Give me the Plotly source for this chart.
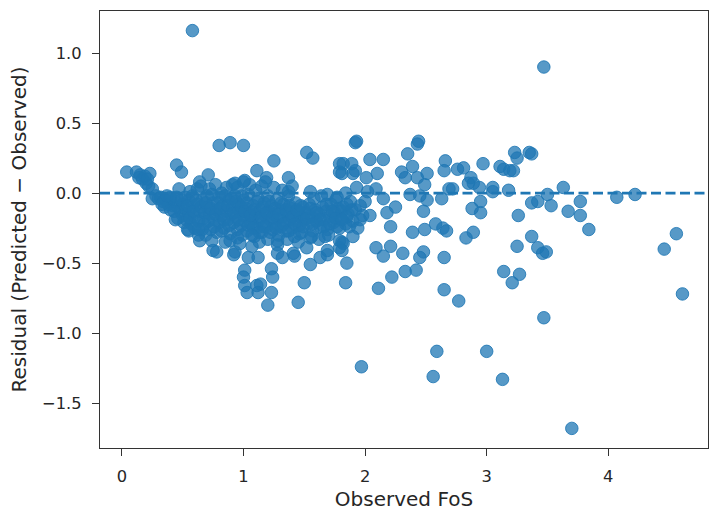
import plotly.graph_objects as go

# (Observed FoS, Residual) pairs, grouped by region
left_group = [(0.04,0.15),(0.12,0.15),(0.15,0.13),(0.19,0.12),(0.23,0.14),(0.17,0.10),(0.20,0.07),
              (0.22,0.05),(0.25,0.03),(0.25,-0.04),(0.28,-0.02),(0.14,0.11),(0.21,0.10)]

upper_left = [(0.45,0.20),(0.49,0.15),(0.58,1.16),(0.64,0.08),(0.71,0.13),(0.80,0.34),(0.89,0.36),
              (1.00,0.34),(0.86,0.04),(0.91,0.06),(0.82,0.00),(0.93,0.07),(1.01,0.09),(1.11,0.16),
              (1.19,0.11),(1.25,0.23),(1.37,0.11),(1.52,0.29),(1.57,0.25),(1.37,0.01),(1.55,0.01),
              (1.69,-0.01),(1.77,-0.03),(1.84,0.00),(1.79,0.21),(1.79,0.15),(1.89,0.21),(1.90,0.14),
              (1.92,0.36),(1.93,0.37),(1.82,0.21),(1.81,0.14),(1.92,0.16)]

band = [(0.30,-0.04),(0.32,-0.03),(0.34,-0.06),(0.36,-0.05),(0.38,-0.08),(0.40,-0.04),(0.42,-0.09),
        (0.35,-0.10),(0.40,-0.12),(0.44,-0.06),(0.46,-0.10),(0.48,-0.13),(0.50,-0.08),(0.50,-0.16),
        (0.52,-0.11),(0.53,-0.19),(0.55,-0.05),(0.55,-0.14),(0.57,-0.22),(0.58,-0.10),(0.60,-0.17),
        (0.60,-0.25),(0.46,-0.18),(0.52,-0.03),(0.47,0.03),(0.56,0.01),(0.58,-0.02),(0.62,0.03),
        (0.55,-0.27),(0.63,-0.30),(0.40,-0.03),
        (0.62,-0.08),(0.64,-0.13),(0.66,-0.05),(0.67,-0.18),(0.68,-0.22),(0.70,-0.10),(0.70,-0.02),
        (0.72,-0.15),(0.73,-0.26),(0.75,-0.07),(0.76,-0.19),(0.78,-0.12),(0.78,-0.28),(0.80,-0.03),
        (0.80,-0.21),(0.82,-0.16),(0.83,-0.09),(0.84,-0.25),(0.86,-0.13),(0.87,-0.19),(0.88,-0.05),
        (0.89,-0.29),(0.90,-0.15),(0.65,0.05),(0.72,0.03),(0.77,0.06),(0.69,-0.30),(0.74,-0.34),
        (0.85,-0.35),
        (0.91,-0.10),(0.92,-0.21),(0.93,-0.02),(0.94,-0.17),(0.95,-0.26),(0.96,-0.08),(0.97,-0.13),
        (0.98,-0.23),(0.99,-0.30),(1.00,-0.05),(1.00,-0.16),(1.01,-0.20),(1.02,-0.11),(1.03,-0.27),
        (1.04,-0.01),(1.05,-0.14),(1.06,-0.22),(1.07,-0.18),(1.08,-0.09),(1.09,-0.31),(1.10,-0.15),
        (1.11,-0.25),(1.12,-0.04),(1.13,-0.19),(1.14,-0.12),(1.15,-0.28),(1.16,-0.21),(1.17,-0.07),
        (1.18,-0.16),(1.19,-0.24),(1.20,-0.02),(1.20,-0.33),(0.95,0.04),(1.05,0.06),(1.15,0.05),
        (1.10,0.02),(1.00,0.08),(1.18,0.08),(0.97,-0.36),(1.07,-0.38),(1.13,-0.35),
        (1.21,-0.13),(1.22,-0.19),(1.23,-0.09),(1.24,-0.26),(1.25,-0.15),(1.26,-0.22),(1.27,-0.05),
        (1.28,-0.18),(1.29,-0.30),(1.30,-0.12),(1.31,-0.24),(1.32,-0.17),(1.33,-0.08),(1.34,-0.21),
        (1.35,-0.27),(1.36,-0.14),(1.37,-0.02),(1.38,-0.19),(1.39,-0.11),(1.40,-0.25),(1.41,-0.16),
        (1.42,-0.31),(1.43,-0.07),(1.44,-0.20),(1.45,-0.13),(1.46,-0.23),(1.47,-0.17),(1.48,-0.28),
        (1.49,-0.10),(1.50,-0.19),(1.25,0.04),(1.32,0.02),(1.40,0.05),(1.28,-0.34),(1.36,-0.33),
        (1.45,-0.35),
        (1.51,-0.14),(1.53,-0.22),(1.54,-0.08),(1.56,-0.17),(1.57,-0.27),(1.59,-0.12),(1.60,-0.20),
        (1.62,-0.15),(1.63,-0.24),(1.65,-0.10),(1.66,-0.19),(1.68,-0.13),(1.69,-0.26),(1.71,-0.17),
        (1.72,-0.08),(1.74,-0.21),(1.75,-0.14),(1.77,-0.24),(1.78,-0.11),(1.80,-0.18),(1.58,-0.04),
        (1.64,-0.02),(1.70,-0.30),(1.76,-0.05),(1.55,-0.32),(1.62,-0.33),
        (1.82,-0.10),(1.84,-0.22),(1.86,-0.15),(1.88,-0.06),(1.90,-0.20),(1.92,-0.12),(1.94,-0.25),
        (1.96,-0.09),(1.98,-0.16)]

band_fill = [(0.33,-0.08),(0.37,-0.02),(0.43,-0.13),(0.45,-0.03),(0.49,-0.05),(0.51,-0.21),(0.54,-0.09),
             (0.56,-0.18),(0.59,-0.13),(0.61,-0.05),(0.63,-0.20),(0.65,-0.10),(0.66,-0.26),(0.68,-0.14),
             (0.69,-0.07),(0.71,-0.20),(0.73,-0.11),(0.74,-0.01),(0.76,-0.24),(0.77,-0.15),(0.79,-0.07),
             (0.81,-0.11),(0.82,-0.27),(0.84,-0.19),(0.85,-0.02),(0.87,-0.09),(0.88,-0.23),(0.90,-0.04),
             (0.92,-0.14),(0.94,-0.06),(0.96,-0.19),(0.98,-0.10),(0.99,-0.02),(1.01,-0.13),(1.03,-0.07),
             (1.04,-0.23),(1.06,-0.16),(1.08,-0.25),(1.09,-0.12),(1.11,-0.06),(1.13,-0.28),(1.14,-0.17),
             (1.16,-0.10),(1.17,-0.24),(1.19,-0.14),(1.21,-0.06),(1.22,-0.28),(1.24,-0.17),(1.26,-0.11),
             (1.27,-0.25),(1.29,-0.15),(1.31,-0.07),(1.33,-0.22),(1.35,-0.12),(1.37,-0.27),(1.38,-0.09),
             (1.40,-0.17),(1.42,-0.22),(1.44,-0.12),(1.46,-0.29),(1.47,-0.09),(1.49,-0.24),(1.52,-0.18),
             (1.55,-0.11),(1.57,-0.22),(1.60,-0.14),(1.63,-0.19),(1.66,-0.24),(1.68,-0.08),(1.71,-0.22),
             (1.73,-0.13),(1.76,-0.18),(1.79,-0.25),(1.81,-0.13),(1.85,-0.08),(1.87,-0.24)]

lower_left = [(0.44,-0.19),(0.54,-0.26),(0.63,-0.26),(0.64,-0.34),(0.75,-0.41),(0.78,-0.42),
              (0.89,-0.34),(0.93,-0.42),(0.95,-0.32),(1.07,-0.30),(0.92,-0.44),(1.04,-0.46),
              (1.12,-0.46),(1.01,-0.55),(1.00,-0.60),(1.01,-0.66),(1.03,-0.71),(1.11,-0.66),
              (1.14,-0.65),(1.12,-0.71),(1.23,-0.54),(1.24,-0.60),(1.23,-0.71),(1.20,-0.80),
              (1.28,-0.37),(1.28,-0.43),(1.32,-0.46),(1.42,-0.45),(1.55,-0.51),(1.50,-0.64),
              (1.45,-0.78),(1.52,-0.39),(1.63,-0.46),(1.69,-0.44),(1.67,-0.31),(1.81,-0.35),
              (1.79,-0.39),(1.85,-0.50),(1.84,-0.64),(1.90,-0.31),(1.41,-0.43),(1.56,-0.31),
              (1.69,-0.41),(1.79,-0.34)]

middle = [(2.44,0.37),(2.43,0.35),(2.35,0.28),(2.15,0.24),(2.04,0.24),(2.10,0.14),(2.01,0.11),
          (2.30,0.15),(2.39,0.19),(2.33,0.11),(2.43,0.11),(2.51,0.14),(2.49,0.06),(1.93,0.04),
          (2.09,0.03),(2.02,0.01),(2.00,-0.06),(2.15,-0.04),(2.37,-0.01),(2.45,-0.02),(2.51,-0.05),
          (2.25,-0.10),(2.48,-0.13),(2.18,-0.14),(1.89,-0.12),(2.04,-0.16),(1.96,-0.19),(1.85,-0.17),
          (1.81,-0.19),(2.21,-0.24),(2.39,-0.28),(2.49,-0.26),(2.58,-0.22),(1.82,-0.36),(1.81,-0.41),
          (2.09,-0.39),(2.21,-0.38),(2.15,-0.45),(2.31,-0.43),(2.48,-0.42),(2.45,-0.46),(2.42,-0.55),
          (2.33,-0.56),(2.22,-0.60),(2.11,-0.68),(1.97,-1.24),(2.59,-1.13),(2.56,-1.31),(3.00,-1.13),
          (3.13,-1.33),(3.70,-1.68)]

right_group = [(3.23,0.29),(3.25,0.25),(3.35,0.29),(3.37,0.28),(2.97,0.21),(3.11,0.19),(3.14,0.17),
               (3.19,0.16),(3.22,0.16),(2.66,0.23),(2.65,0.16),(2.76,0.17),(2.81,0.18),(2.87,0.11),
               (2.85,0.07),(2.89,0.07),(2.94,0.04),(2.69,0.03),(2.72,0.03),(3.05,0.04),(3.05,0.01),
               (3.18,0.02),(2.95,-0.06),(2.88,-0.11),(2.95,-0.14),(2.63,-0.04),(2.64,-0.25),(2.67,-0.27),
               (2.65,-0.46),(2.65,-0.69),(2.77,-0.77),(2.89,-0.28),(2.83,-0.32),(3.14,-0.56),(3.27,-0.58),
               (3.21,-0.64),(3.25,-0.38),(3.37,-0.31),(3.42,-0.39),(3.46,-0.43),(3.49,-0.42),(3.26,-0.16),
               (3.37,-0.07),(3.42,-0.06),(3.50,-0.01),(3.53,-0.09),(3.63,0.04),(3.67,-0.13),(3.77,-0.06),
               (3.77,-0.16),(3.84,-0.26),(4.07,-0.03),(4.22,-0.01),(4.56,-0.29),(4.46,-0.40),(4.61,-0.72),
               (3.47,-0.89),(3.47,0.90)]

x_ticks = [0, 1, 2, 3, 4]
y_ticks = [-1.5, -1.0, -0.5, 0.0, 0.5, 1.0]
y_tick_text = ["\u22121.5", "\u22121.0", "\u22120.5", "0.0", "0.5", "1.0"]

groups = [left_group, upper_left, band, band_fill, lower_left, middle, right_group]
obs_fos = [p[0] for g in groups for p in g]
residual = [p[1] for g in groups for p in g]

blue = "#1f77b4"
fig = go.Figure()
fig.add_trace(go.Scatter(
    x=obs_fos, y=residual, mode="markers",
    marker=dict(size=12.5, color="rgba(31,119,180,0.75)",
                line=dict(color="rgba(31,119,180,0.85)", width=1)),
    showlegend=False, hoverinfo="skip"))

fig.add_shape(type="line", xref="paper", x0=0, x1=1, yref="y", y0=0, y1=0,
              line=dict(color=blue, width=2.6, dash="10px,4.5px"), layer="above")

font = dict(family="DejaVu Sans", size=16.3, color="#262626")
fig.update_layout(
    width=721, height=511,
    margin=dict(l=100, r=13, t=11, b=63),
    paper_bgcolor="white", plot_bgcolor="white",
    font=font, showlegend=False,
    xaxis=dict(range=[-0.18, 4.82], tickvals=x_ticks, ticktext=[str(v) for v in x_ticks],
               showgrid=False, zeroline=False, showline=True, mirror=True,
               linecolor="#333333", linewidth=1.3, ticks="outside", ticklen=7, tickwidth=1.3,
               tickcolor="#333333", ticklabelstandoff=6, automargin=False,
               title=dict(text="Observed FoS", standoff=7)),
    yaxis=dict(range=[-1.82, 1.30], tickvals=y_ticks, ticktext=y_tick_text,
               showgrid=False, zeroline=False, showline=True, mirror=True,
               linecolor="#333333", linewidth=1.3, ticks="outside", ticklen=7, tickwidth=1.3,
               tickcolor="#333333", ticklabelstandoff=7, automargin=False,
               title=dict(text="Residual (Predicted \u2212 Observed)", standoff=10)),
)
fig.write_html("out.html", config={"displayModeBar": False},
               post_script="document.body.style.margin='0px';")
